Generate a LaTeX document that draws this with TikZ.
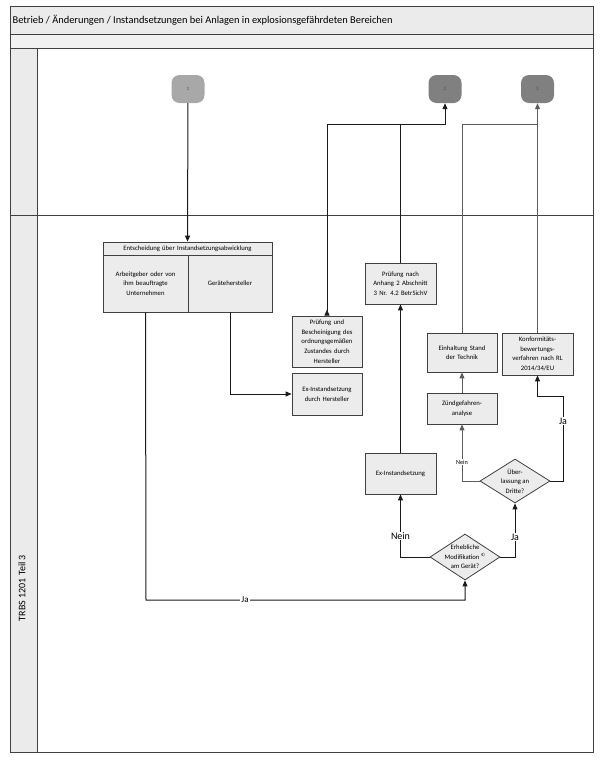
\documentclass[tikz,border=0pt]{standalone}
\usepackage{fontspec}
\setmainfont{Carlito}
\usetikzlibrary{arrows.meta,shapes.geometric}
\definecolor{frameC}{HTML}{404040}
\definecolor{barC}{HTML}{EBEBEB}
\definecolor{boxC}{HTML}{ECECEC}
\definecolor{termA}{HTML}{A8A8A8}
\definecolor{termB}{HTML}{808080}
\definecolor{lineB}{HTML}{1A1A1A}
\definecolor{lineG}{HTML}{5C5C5C}
\begin{document}
\begin{tikzpicture}[x=1pt,y=-1pt,
  frame/.style={draw=frameC,line width=0.9pt},
  box/.style={draw=frameC,fill=boxC,line width=0.8pt,align=center,inner sep=1pt,
    font=\fontsize{6.7}{9.6}\selectfont,minimum width=#1,text width=#1-6pt},
  box/.default=70pt,
  dia/.style={diamond,draw=frameC,fill=boxC,line width=0.8pt,inner sep=0pt,
    minimum width=70pt,minimum height=#1},
  dtext/.style={align=center,font=\fontsize{6.7}{9.6}\selectfont,inner sep=0pt},
  term/.style={draw=none,fill=#1,rounded corners=8pt,minimum width=33pt,
    minimum height=28pt,inner sep=0pt,font=\fontsize{5}{6}\selectfont,text=black!70},
  conn/.style={draw=lineB,line width=1pt},
  conng/.style={draw=lineG,line width=1pt},
  arr/.style={-{Triangle[width=5pt,length=6pt]}},
  lab/.style={fill=white,inner sep=1pt,font=\fontsize{10}{12}\selectfont},
  labs/.style={fill=white,inner sep=1pt,font=\fontsize{6.2}{7}\selectfont},
]
\useasboundingbox (0,0) rectangle (600,763);
\fill[white] (0,0) rectangle (600,763);

% pool frame
\fill[barC] (10,6) rectangle (593,34);
\fill[barC!70] (10,34) rectangle (593,48);
\fill[barC] (10,48) rectangle (37,752);
\draw[frame] (10,6) rectangle (593,752);
\draw[frame] (10,34) -- (593,34);
\draw[frame] (10,48) -- (593,48);
\draw[frame] (37,48) -- (37,752);
\draw[frame] (10,215) -- (593,215);
\node[anchor=west,inner sep=0pt,font=\fontsize{10.4}{12}\selectfont] (title) at (12.5,20)
  {Betrieb / Änderungen / Instandsetzungen bei Anlagen in explosionsgefährdeten Bereichen};
\node[rotate=90,inner sep=0pt,font=\fontsize{10}{12}\selectfont] (lane) at (22,588) {TRBS 1201 Teil 3};

% terminators
\node[term=termA] (t1) at (188,89) {1};
\node[term=termB] (t2) at (445,89) {2};
\node[term=termB] (t3) at (537.5,89) {3};

% decision group box
\node[box=169pt,minimum height=13pt,text width=165pt] (entH) at (187.5,248.5) {Entscheidung über Instandsetzungsabwicklung};
\node[box=85pt,minimum height=57pt,text width=78pt] (entL) at (145.5,283.5) {Arbeitgeber oder von\\ihm beauftragte\\Unternehmen};
\node[box=84pt,minimum height=57pt,text width=78pt] (entR) at (230,283.5) {Gerätehersteller};

% process boxes
\node[box,minimum height=51pt] (pb) at (327,341.5) {Prüfung und\\Bescheinigung des\\ordnungsgemäßen\\Zustandes durch\\Hersteller};
\node[box,minimum height=42pt] (exh) at (327,394) {Ex-Instandsetzung\\durch Hersteller};
\node[box=71pt,minimum height=41pt] (pa) at (400.5,283.5) {Prüfung nach\\Anhang 2 Abschnitt\\3 Nr. 4.2 BetrSichV};
\node[box=71pt,minimum height=41pt] (ex) at (400.5,473.5) {Ex-Instandsetzung};
\node[box,minimum height=39pt] (eh) at (462,352.5) {Einhaltung Stand\\der Technik};
\node[box=71pt,minimum height=42pt] (ko) at (537.5,354) {Konformitäts-\\bewertungs-\\verfahren nach RL\\2014/34/EU};
\node[box,minimum height=31pt] (zu) at (462,408.5) {Zündgefahren-\\analyse};

% decisions
\node[dia=44pt] (d2) at (515,481) {};
\node[dtext] (d2t) at (d2) {Über-\\lassung an\\Dritte?};
\node[dia=46pt] (d1) at (465,557) {};
\node[dtext] (d1t) at (d1) {Erhebliche\\Modifikation \textsuperscript{4)}\\am Gerät?};

% junction / bend coordinates
\coordinate (j2) at (445,124);
\coordinate (j3) at (537.5,124);
\coordinate (bL) at (146,600);
\coordinate (bR) at (563,481);
\coordinate (bR2) at (563,396);

% connectors
\draw[conn,arr] (t1) -- (entH);
\draw[conn,arr] (entL.south) -- (bL) -| (d1.south);
\node[lab,font=\fontsize{9}{11}\selectfont] (jaL) at (245,600) {Ja};
\draw[conn,arr] (entR.south) |- (exh.west);
\draw[conn,{Triangle[width=5pt,length=6pt,reversed]}-{Triangle[width=5pt,length=6pt]}] (pb.north) |- (j2) -- (t2.south);
\draw[conn] (pa.north) -- (400.5,124);
\draw[conn,arr] (ex.north) -- (pa.south);
\draw[conn,arr] (d1.west) -| (ex.south);
\node[lab] (nein1) at (400.5,536) {Nein};
\draw[conn,arr] (d1.east) -| (d2.south);
\node[lab] (ja1) at (515,537) {Ja};
\draw[conng,arr] (d2.west) -| (zu.south);
\node[labs] (nein2) at (462,462) {Nein};
\draw[conng,arr] (zu.north) -- (eh.south);
\draw[conng,arr] (eh.north) |- (j3) -- (t3.south);
\draw[conng] (ko.north) -- (j3);
\draw[conn,arr] (d2.east) -- (bR) -- (bR2) -| (ko.south);
\node[lab] (ja2) at (563,421) {Ja};
\end{tikzpicture}
\end{document}
